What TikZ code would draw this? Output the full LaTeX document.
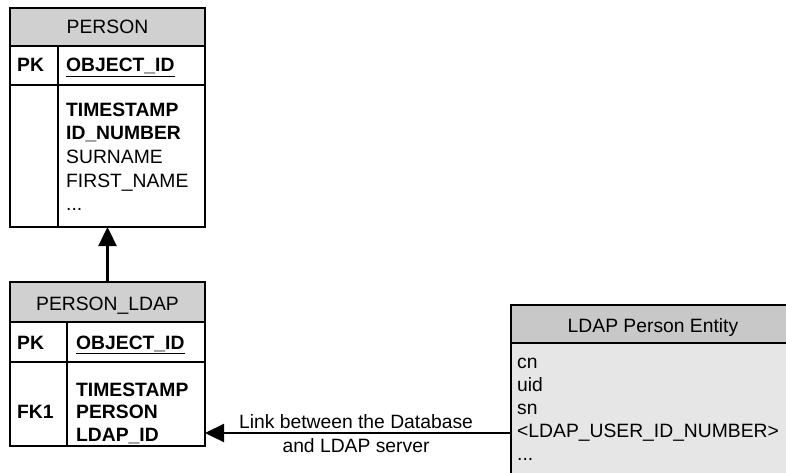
\documentclass[tikz,border=0pt]{standalone}
\usepackage{fontspec}
\setmainfont{Liberation Sans}
\usetikzlibrary{arrows.meta}
\definecolor{hdr}{HTML}{D0D0D0}
\definecolor{ldapbody}{HTML}{E6E6E6}
\definecolor{ldaphdr}{HTML}{C8C8C8}
\begin{document}
\begin{tikzpicture}[x=1pt,y=-1pt,
  box/.style={draw=black, line width=1.3pt, inner sep=0pt, outer sep=0pt, rectangle},
  divline/.style={draw=black, line width=1.3pt},
  txt/.style={inner sep=0pt, anchor=base west, font=\fontsize{19.3}{23}\selectfont},
  btxt/.style={txt, font=\fontsize{19.3}{23}\selectfont\bfseries},
  ctxt/.style={inner sep=0pt, anchor=base, font=\fontsize{19.3}{23}\selectfont},
  arr/.style={draw=black, line width=2.3pt, -{Triangle[length={19pt 0}, width={18pt 0}]}}]
\useasboundingbox (0,0) rectangle (786,473);
\clip (0,0) rectangle (786,473);

% PERSON table
\node[box, fill=hdr, minimum width=195pt, minimum height=38pt] (phead) at (107.5,27) {};
\node[box, fill=white, minimum width=195pt, minimum height=39pt] (ppk) at (107.5,65.5) {};
\node[box, fill=white, minimum width=195pt, minimum height=142pt] (pbody) at (107.5,156) {};
\draw[divline] (58,46) -- (58,227);
\node[ctxt] (pt) at (107.5,34) {PERSON};
\node[btxt] (ppkl) at (17,72) {PK};
\node[btxt] (ppkf) at (66,72) {\underline{OBJECT\_ID}};
\node[btxt] (p1) at (66,117) {TIMESTAMP};
\node[btxt] (p2) at (66,140) {ID\_NUMBER};
\node[txt] (p3) at (66,163.5) {SURNAME};
\node[txt] (p4) at (66,187) {FIRST\_NAME};
\node[txt] (p5) at (66,210) {...};

% PERSON_LDAP table
\node[box, fill=hdr, minimum width=195pt, minimum height=40pt] (plhead) at (107.5,302) {};
\node[box, fill=white, minimum width=195pt, minimum height=40pt] (plpk) at (107.5,342) {};
\node[box, fill=white, minimum width=195pt, minimum height=84pt] (plbody) at (107.5,404) {};
\draw[divline] (67,322) -- (67,446);
\node[ctxt] (plt) at (107.5,310) {PERSON\_LDAP};
\node[btxt] (plpkl) at (17,349) {PK};
\node[btxt] (plpkf) at (76,349) {\underline{OBJECT\_ID}};
\node[btxt] (plfk) at (17,418.5) {FK1};
\node[btxt] (pl1) at (76,396) {TIMESTAMP};
\node[btxt] (pl2) at (76,418.5) {PERSON};
\node[btxt] (pl3) at (76,441) {LDAP\_ID};

% LDAP Person Entity
\node[box, fill=ldapbody, minimum width=285pt, minimum height=147pt] (ldap) at (653.5,416.5) {};
\node[box, fill=ldaphdr, minimum width=285pt, minimum height=38pt] (lhead) at (653.5,324) {};
\node[ctxt] (lt) at (653,332) {LDAP Person Entity};
\node[txt] (l1) at (517,368) {cn};
\node[txt] (l2) at (517,391.5) {uid};
\node[txt] (l3) at (517,414.5) {sn};
\node[txt] (l4) at (517,437.5) {<LDAP\_USER\_ID\_NUMBER>};
\node[txt] (l5) at (517,460) {...};

% connectors
\draw[arr] (plhead.north) -- (pbody.south);
\coordinate (linky) at (0,433);
\draw[arr] (ldap.west |- linky) -- (plbody.east |- linky);
\node[ctxt] (lab1) at (356,428) {Link between the Database};
\node[ctxt] (lab2) at (356,452) {and LDAP server};
\end{tikzpicture}
\end{document}
